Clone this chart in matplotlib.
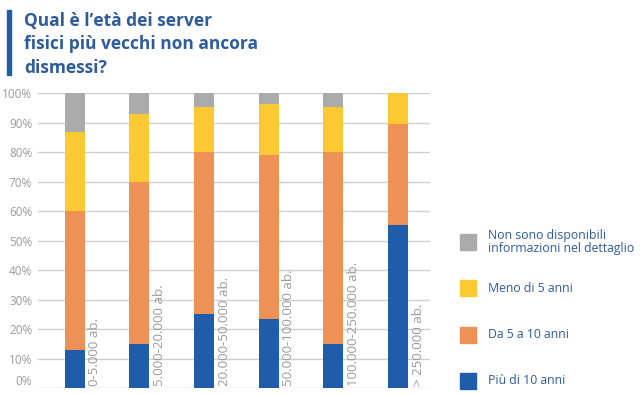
import numpy as np
import matplotlib.pyplot as plt
from matplotlib.patches import Rectangle

plt.rcParams['font.family'] = ['Open Sans', 'DejaVu Sans']

# Data (percentages)
categories = ['0-5.000 ab.', '5.000-20.000 ab.', '20.000-50.000 ab.',
              '50.000-100.000 ab.', '100.000-250.000 ab.', '> 250.000 ab.']
piu_10 = [13, 15, 25, 23.5, 15, 55.5]
da_5_10 = [47, 55, 55, 55.5, 65, 34]
meno_5 = [27, 23, 15.5, 17.5, 15.5, 10.5]
non_disp = [13, 7, 4.5, 3.5, 4.5, 0]

series = [piu_10, da_5_10, meno_5, non_disp]
labels = ['Più di 10 anni', 'Da 5 a 10 anni', 'Meno di 5 anni',
          'Non sono disponibili\ninformazioni nel dettaglio']
colors = ['#1f5dab', '#ee9157', '#fdc932', '#ababab']
title_col = '#2d5b9c'
grey_txt = '#9a9a9a'

fig = plt.figure(figsize=(6.4, 3.94), dpi=100)
ax = fig.add_axes([0.059, 0.015, 0.613, 0.748])

x = np.arange(len(categories))
bottom = np.zeros(len(categories))
for vals, col in zip(series, colors):
    ax.bar(x, vals, width=0.31, bottom=bottom, color=col, zorder=3)
    bottom += np.array(vals)

# category labels rotated next to each bar
for xi, cat in zip(x, categories):
    ax.text(xi + 0.31, 0.8, cat, rotation=90, ha='center', va='bottom',
            fontsize=9.5, color=grey_txt)

ax.set_xlim(-0.573, 5.495)
ax.set_ylim(0, 100)
ax.set_yticks(np.arange(0, 101, 10))
ax.set_yticklabels([f'{v}%' for v in range(0, 101, 10)], fontsize=8.5,
                   color=grey_txt)
ax.set_xticks([])
ax.tick_params(axis='y', length=0, pad=4)
ax.grid(axis='y', color='#cfcfcf', lw=1, zorder=0)
for s in ax.spines.values():
    s.set_visible(False)
# keep the 0% label fully visible
ax.get_yticklabels()[0].set_va('bottom')

# title with side bar
fig.patches.append(Rectangle((0.011, 0.81), 0.006, 0.165, transform=fig.transFigure,
                             color='#1f5dab'))
fig.text(0.038, 0.97, 'Qual è l’età dei server\nfisici più vecchi non ancora\ndismessi?',
         ha='left', va='top', fontsize=12.5, fontweight='bold', color=title_col,
         linespacing=1.4)

# legend
leg_y = [381, 335, 288, 242]
for ly, lab, col in zip(leg_y, labels, colors):
    yf = 1 - ly / 394
    fig.patches.append(Rectangle((460 / 640, yf - 8 / 394), 16 / 640, 16 / 394,
                                 transform=fig.transFigure, color=col))
    fig.text(488 / 640, yf, lab, ha='left', va='center', fontsize=8.8,
             color=title_col, linespacing=1.0)

fig.savefig('out.png', dpi=100)
